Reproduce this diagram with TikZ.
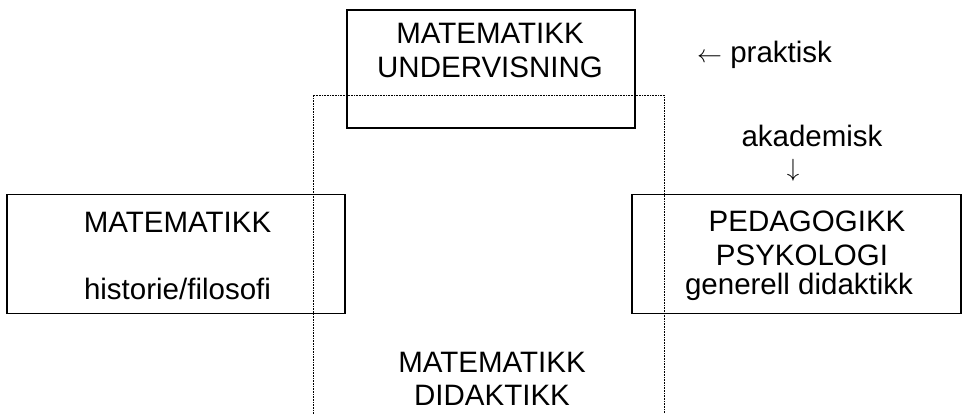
\documentclass[tikz,border=0pt]{standalone}
\usepackage{fontspec}
\setmainfont{Liberation Sans}
\begin{document}
\begin{tikzpicture}[x=1pt,y=-1pt,
  box/.style={draw,line width=1.1pt,inner sep=0pt,rectangle},
  lbl/.style={anchor=base,inner sep=0pt,font=\fontsize{29.5}{34}\selectfont},
  dotline/.style={line width=0.7pt,dash pattern=on 0.8pt off 0.8pt}]
  \useasboundingbox (0,0) rectangle (963,414);
  % frame of the didactics field (open at the bottom)
  \coordinate (dl) at (313,414);
  \coordinate (dtl) at (313,95);
  \coordinate (dtr) at (664,95);
  \coordinate (dr) at (664,414);
  \draw[dotline] (dl) -- (dtl) -- (dtr) -- (dr);
  % boxes
  \node[box,minimum width=288pt,minimum height=118pt] (top) at (491,69) {};
  \node[box,minimum width=338pt,minimum height=119pt] (left) at (176,254) {};
  \node[box,minimum width=329pt,minimum height=119pt] (right) at (796.5,254) {};
  % texts
  \node[lbl] (t1) at (490,44) {MATEMATIKK};
  \node[lbl] (t2) at (490,78) {UNDERVISNING};
  \node[lbl] (l1) at (177.5,232) {MATEMATIKK};
  \node[lbl] (l2) at (177.5,299) {historie/filosofi};
  \node[lbl] (r1) at (807,231) {PEDAGOGIKK};
  \node[lbl] (r2) at (802,265) {PSYKOLOGI};
  \node[lbl] (r3) at (799,294) {generell didaktikk};
  \node[lbl] (b1) at (492,372) {MATEMATIKK};
  \node[lbl] (b2) at (492,405) {DIDAKTIKK};
  \node[lbl,anchor=base west] (pr) at (697,63) {$\leftarrow$ praktisk};
  \node[lbl] (ak) at (812,147) {akademisk};
  \node[lbl] (dn) at (793,177) {$\downarrow$};
\end{tikzpicture}
\end{document}
